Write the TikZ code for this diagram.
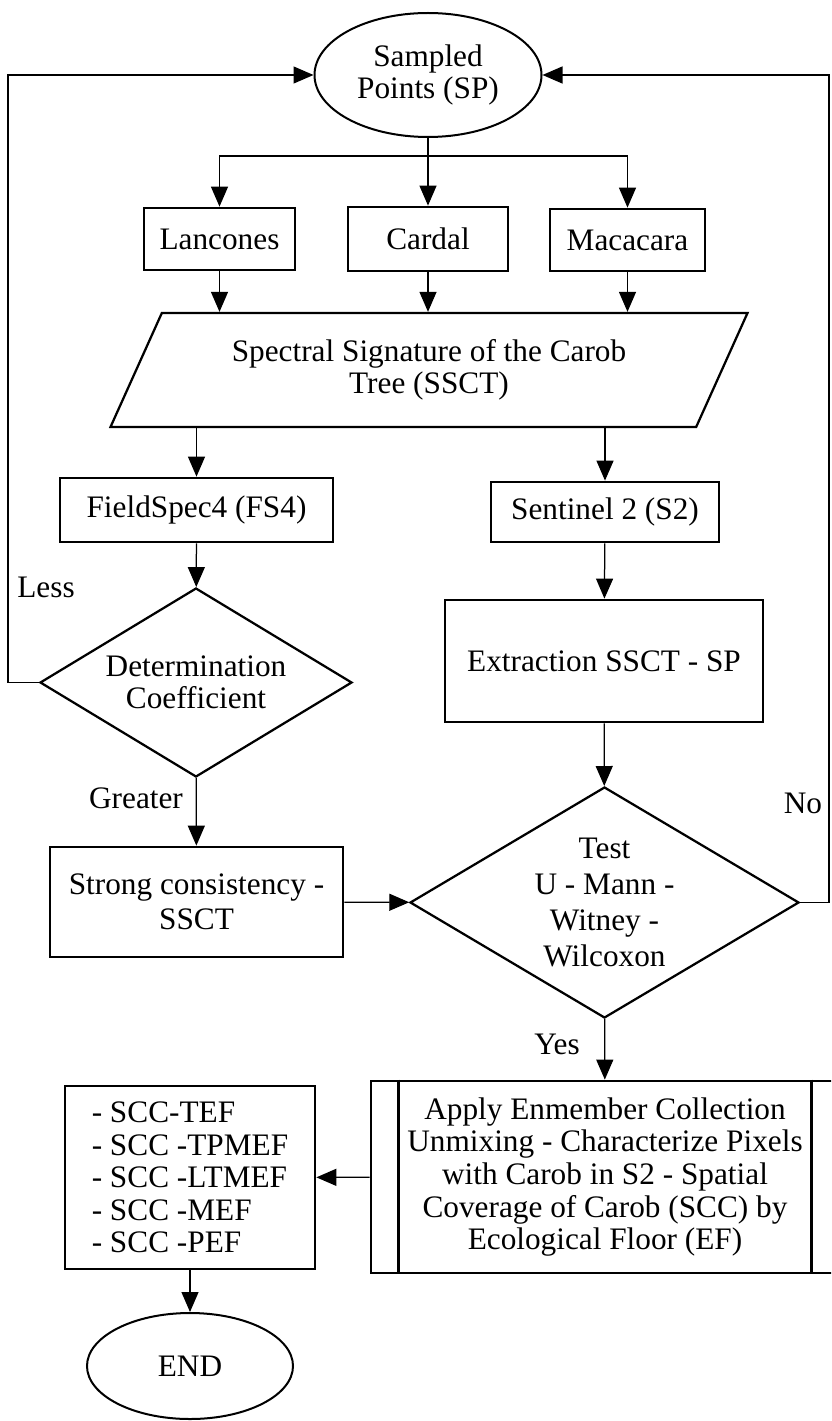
\documentclass[tikz,border=0pt]{standalone}
\usepackage{fontspec}
\setmainfont{Liberation Serif}
\usetikzlibrary{shapes.geometric,arrows.meta}

\tikzset{
	box/.style={draw, line width=0.55mm, inner sep=0pt, align=center},
	oval/.style={draw, ellipse, line width=0.4mm, inner sep=0pt, align=center},
	dec/.style={draw, diamond, line width=0.45mm, inner sep=0pt, align=center},
	para/.style={draw, trapezium, trapezium left angle=50, trapezium right angle=130,
		trapezium stretches body, line width=0.45mm, inner sep=0pt, align=center},
	arr/.style={line width=0.25mm, -{Triangle[length=4mm, width=3.4mm]}},
	link/.style={line width=0.25mm}
}

\begin{document}
\begin{tikzpicture}[x=0.2mm, y=-0.2mm, font=\fontsize{17.8}{18.5}\selectfont]
				\path[fill=white, use as bounding box](0, 0) rectangle (831, 1421);
				\clip(0, 0) rectangle (831, 1421);

				%%start and the three sites
				\node[oval, minimum width=45.4mm, minimum height=24.8mm] (sp) at (428, 75){Sampled\\Points (SP)};
				\coordinate (split) at (428, 156);
				\node[box, minimum width=30.2mm, minimum height=12.4mm] (lan) at (219.5, 239){Lancones};
				\node[box, minimum width=32mm, minimum height=12.8mm] (car) at (428, 239){Cardal};
				\node[box, minimum width=31mm, minimum height=12.4mm] (mac) at (627.5, 240){Macacara};

				\draw[link](sp) to (split);
				\draw[arr](split) -| (lan);
				\draw[arr](split) to (car);
				\draw[arr](split) -| (mac);

				%%spectral signature
				\node[para, minimum width=127.4mm, minimum height=22.8mm] (ssct) at (429, 370){Spectral Signature of the Carob\\Tree (SSCT)};
				\draw[arr](lan) to (lan |- ssct.north);
				\draw[arr](car) to (car |- ssct.north);
				\draw[arr](mac) to (mac |- ssct.north);

				%%left branch
				\node[box, minimum width=54.6mm, minimum height=12.8mm] (fs) at (196.5, 510){FieldSpec4 (FS4)};
				\node[dec, aspect=1.65, minimum width=62.4mm, minimum height=37.8mm] (det) at (196, 682.5){Determination\\Coefficient};
				\node[box, minimum width=58.6mm, minimum height=22mm, font=\fontsize{17.8}{20}\selectfont] (sc) at (196.5, 902){Strong consistency -\\SSCT};
				\draw[arr](ssct.south -| fs) to (fs);
				\draw[arr](fs) to (det);
				\draw[arr](det) to (sc);
				\node (less) at (46, 587){Less};
				\node (greater) at (136, 798){Greater};

				%%right branch
				\node[box, minimum width=45.6mm, minimum height=12mm] (s2) at (605, 512){Sentinel 2 (S2)};
				\node[box, minimum width=63.6mm, minimum height=24.4mm] (ext) at (604, 661){Extraction SSCT - SP};
				\node[dec, aspect=1.68, minimum width=77.8mm, minimum height=46.2mm, font=\fontsize{17.8}{20.5}\selectfont] (test) at (604.5, 902.5){Test\\U - Mann -\\Witney -\\Wilcoxon};
				\draw[arr](ssct.south -| s2) to (s2);
				\draw[arr](s2) to (ext);
				\draw[arr](ext) to (test);
				\draw[arr](sc) to (test);
				\node (no) at (803, 803){No};
				\node (yes) at (557, 1044){Yes};

				%%going back to the points
				\coordinate (lfar) at (8, 0);
				\coordinate (rfar) at (829, 0);
				\draw[arr](det.west) -- (det.west -| lfar) |- (sp.west);
				\draw[arr](test.east) -- (test.east -| rfar) |- (sp.east);

				%%unmixing and results
				\node[box, minimum width=93.6mm, minimum height=38.4mm] (apply) at (605, 1177){Apply Enmember Collection\\Unmixing - Characterize Pixels\\with Carob in S2 - Spatial\\Coverage of Carob (SCC) by\\Ecological Floor (EF)};
				\draw[line width=0.55mm]([xshift=5.8mm]apply.north west) to ([xshift=5.8mm]apply.south west);
				\draw[line width=0.55mm]([xshift=-5.8mm]apply.north east) to ([xshift=-5.8mm]apply.south east);
				\draw[arr](test) to (apply);

				\node[box, align=left, minimum width=50mm, minimum height=36.6mm] (list) at (190, 1177.5){- SCC-TEF\\- SCC -TPMEF\\- SCC -LTMEF\\- SCC -MEF\\- SCC -PEF};
				\draw[arr](apply) to (list);

				\node[oval, minimum width=41.2mm, minimum height=21.2mm] (end) at (190, 1366){END};
				\draw[arr](list) to (end);
			\end{tikzpicture}
\end{document}
